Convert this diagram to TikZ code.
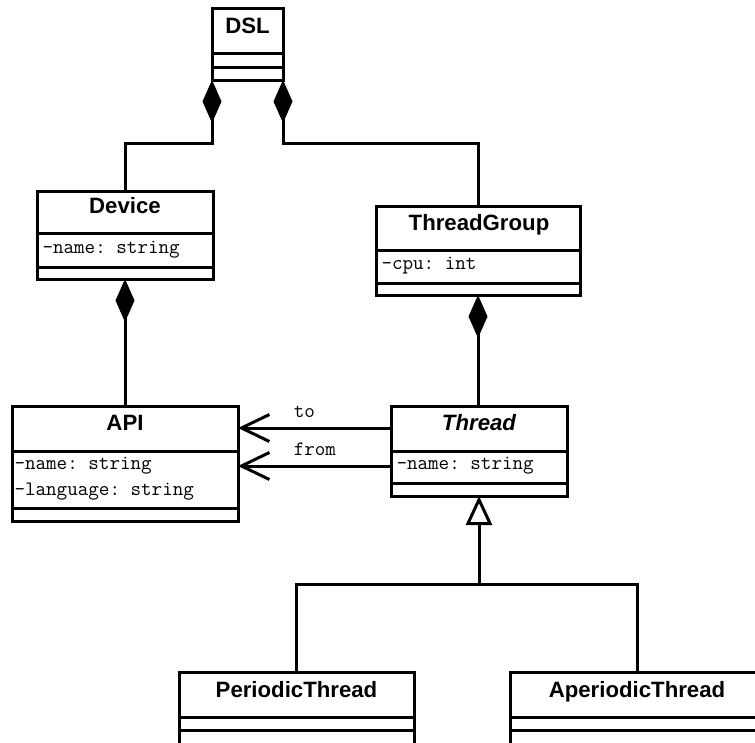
\documentclass[tikz,border=0pt]{standalone}
\usepackage{fontspec}
\setmainfont{Liberation Sans}
\usetikzlibrary{arrows.meta}

\tikzset{
  classbox/.style={draw, line width=3pt, inner sep=0pt, outer sep=0pt, anchor=north west},
  classname/.style={font=\bfseries\fontsize{22.2}{24}\selectfont, inner sep=0pt, anchor=base},
  member/.style={font=\ttfamily\frenchspacing\fontsize{20.5}{22}\selectfont, inner sep=0pt, anchor=base west},
  rolelabel/.style={font=\ttfamily\frenchspacing\fontsize{20.5}{22}\selectfont, inner sep=0pt, anchor=base west, yshift=11pt},
  comp/.style={arrows={Diamond[length=43pt 0 0,width=19pt 0 0]-}},
  assoc/.style={arrows={-Straight Barb[length=28pt 0 0,width=27pt 0 0,line cap=butt]}},
  gen/.style={arrows={-Triangle[open,fill=white,length=29pt 0 0,width=26pt 0 0]}},
}

\begin{document}
\begin{tikzpicture}[x=1pt, y=-1pt, line width=3pt]
\clip (0,0) rectangle (755,742);

% ---- DSL ----
\node[classbox, minimum width=71pt, minimum height=72pt] (DSL) at (212,8) {};
\draw (DSL.west |- 0,53) -- (DSL.east |- 0,53);
\draw (DSL.west |- 0,67) -- (DSL.east |- 0,67);
\node[classname] (DSLname) at (247.5,33) {DSL};

% ---- Device ----
\node[classbox, minimum width=176pt, minimum height=88pt] (Device) at (37,191) {};
\draw (Device.west |- 0,233) -- (Device.east |- 0,233);
\draw (Device.west |- 0,267) -- (Device.east |- 0,267);
\node[classname] (Devicename) at (125,213) {Device};
\node[member] (Deviceattr) at (41,253) {-name: string};

% ---- ThreadGroup ----
\node[classbox, minimum width=204pt, minimum height=89pt] (ThreadGroup) at (376,206) {};
\draw (ThreadGroup.west |- 0,250) -- (ThreadGroup.east |- 0,250);
\draw (ThreadGroup.west |- 0,283) -- (ThreadGroup.east |- 0,283);
\node[classname] (ThreadGroupname) at (479,230) {ThreadGroup};
\node[member] (ThreadGroupattr) at (380,269) {-cpu: int};

% ---- API ----
\node[classbox, minimum width=226pt, minimum height=115pt] (API) at (12,406) {};
\draw (API.west |- 0,451) -- (API.east |- 0,451);
\draw (API.west |- 0,508) -- (API.east |- 0,508);
\node[classname] (APIname) at (125,430) {API};
\node[member] (APIattrA) at (13,469) {-name: string};
\node[member] (APIattrB) at (13,495) {-language: string};

% ---- Thread (abstract) ----
\node[classbox, minimum width=176pt, minimum height=90pt] (Thread) at (391,406) {};
\draw (Thread.west |- 0,451) -- (Thread.east |- 0,451);
\draw (Thread.west |- 0,483) -- (Thread.east |- 0,483);
\node[classname, font=\bfseries\itshape\fontsize{22.2}{24}\selectfont] (Threadname) at (479,430) {Thread};
\node[member] (Threadattr) at (395,469) {-name: string};

% ---- PeriodicThread ----
\node[classbox, minimum width=235pt, minimum height=76pt] (Periodic) at (179,672) {};
\draw (Periodic.west |- 0,717) -- (Periodic.east |- 0,717);
\draw (Periodic.west |- 0,730) -- (Periodic.east |- 0,730);
\node[classname] (Periodicname) at (296.5,697) {PeriodicThread};

% ---- AperiodicThread ----
\node[classbox, minimum width=254pt, minimum height=76pt] (Aperiodic) at (510,672) {};
\draw (Aperiodic.west |- 0,717) -- (Aperiodic.east |- 0,717);
\draw (Aperiodic.west |- 0,730) -- (Aperiodic.east |- 0,730);
\node[classname] (Aperiodicname) at (637,697) {AperiodicThread};

% ---- compositions ----
\draw[comp] (DSL.south west) -- ++(0,63) -| (Device.north);
\draw[comp] (DSL.south east) -- ++(0,63) -| (ThreadGroup.north);
\draw[comp] (Device.south) -- (API.north);
\draw[comp] (ThreadGroup.south) -- (ThreadGroup.south |- Thread.north);

% ---- associations Thread -> API ----
\coordinate (toStart) at ([yshift=23pt]Thread.west);
\coordinate (fromStart) at ([yshift=-15pt]Thread.west);
\draw[assoc] (toStart) -- (toStart -| API.east)
  node[rolelabel, pos=0.645] (tolabel) {to};
\draw[assoc] (fromStart) -- (fromStart -| API.east)
  node[rolelabel, pos=0.645] (fromlabel) {from};

% ---- generalization ----
\coordinate (split) at (Thread.south |- 0,584);
\draw[gen] (split) -- (Thread.south);
\draw (Periodic.north) |- (split) -| (Aperiodic.north);

\end{tikzpicture}
\end{document}
